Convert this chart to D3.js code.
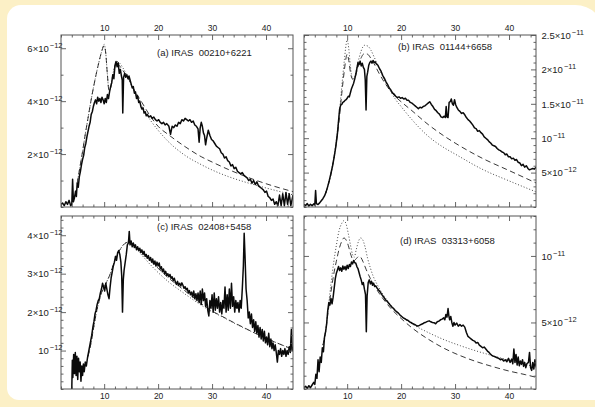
<!DOCTYPE html>
<html>
<head>
<meta charset="utf-8">
<script src="https://cdn.jsdelivr.net/npm/d3@7"></script>
<style>
  html, body { margin: 0; padding: 0; background: #fcf0c6; }
  svg { display: block; }
  text { font-family: "Liberation Sans", Arial, Helvetica, sans-serif; fill: #222; }
</style>
</head>
<body>
<svg id="chart" width="595" height="407"></svg>
<script>
// Wavelength axis (micron), shared by all four panels
const xDomain = [2, 45];
const xMajor = [10, 20, 30, 40];
const xMinor = [2, 4, 6, 8, 12, 14, 16, 18, 22, 24, 26, 28, 32, 34, 36, 38, 42, 44];

const titles = ["(a) IRAS  00210+6221", "(b) IRAS  01144+6658", "(c) IRAS  02408+5458", "(d) IRAS  03313+6058"];

// Flux axis ticks, values in units of 1e-12
const aYTicks = [2, 4, 6];
const aYCoef = ["2×10", "4×10", "6×10"];
const aYExp = ["−12", "−12", "−12"];
const bYTicks = [5, 10, 15, 20, 25];
const bYCoef = ["5×10", "10", "1.5×10", "2×10", "2.5×10"];
const bYExp = ["−12", "−11", "−11", "−11", "−11"];
const cYTicks = [1, 2, 3, 4];
const cYCoef = ["10", "2×10", "3×10", "4×10"];
const cYExp = ["−12", "−12", "−12", "−12"];
const dYTicks = [5, 10];
const dYCoef = ["5×10", "10"];
const dYExp = ["−12", "−11"];

// Observed spectra: [wavelength, flux (1e-12)]
const aObs = [[2.0,0.1],[2.3,0.15],[2.6,0.05],[2.9,0.2],[3.2,0.1],[3.5,0.25],[3.8,0.05],[4.0,0.1],[4.15,1.05],[4.3,0.2],[4.5,0.35],[4.7,0.6],[4.85,0.4],[5.0,0.9],[5.2,0.75],[5.4,1.15],[5.6,1.35],[5.8,1.6],[6.0,1.8],[6.2,1.95],[6.4,2.25],[6.6,2.4],[6.8,2.65],[7.0,2.85],[7.2,3.05],[7.4,3.2],[7.6,3.5],[7.8,3.6],[8.0,3.8],[8.2,3.95],[8.4,4.05],[8.6,3.9],[8.8,4.15],[9.0,4.0],[9.2,4.1],[9.4,3.95],[9.6,4.15],[9.8,4.05],[10.0,3.9],[10.2,4.1],[10.4,3.95],[10.6,4.25],[10.8,4.1],[11.0,4.35],[11.2,4.55],[11.4,4.7],[11.6,5.0],[11.8,4.85],[12.0,5.35],[12.2,5.5],[12.4,5.3],[12.6,5.45],[12.8,5.05],[13.0,5.2],[13.2,4.95],[13.35,4.8],[13.45,3.55],[13.6,4.9],[13.8,5.05],[14.0,4.9],[14.2,5.0],[14.4,4.85],[14.6,4.95],[14.8,4.8],[15.0,4.65],[15.2,4.5],[15.4,4.55],[15.6,4.3],[15.8,4.35],[16.0,4.1],[16.2,4.2],[16.4,3.95],[16.6,4.0],[16.8,3.8],[17.0,3.7],[17.2,3.75],[17.4,3.55],[17.6,3.6],[17.8,3.45],[18.0,3.5],[18.3,3.4],[18.6,3.45],[18.9,3.35],[19.2,3.4],[19.5,3.3],[19.8,3.25],[20.1,3.3],[20.4,3.2],[20.7,3.15],[21.0,3.2],[21.3,3.1],[21.6,3.15],[22.0,3.05],[22.3,2.75],[22.6,3.05],[22.9,3.0],[23.2,3.1],[23.5,3.05],[23.8,3.2],[24.1,3.15],[24.4,3.3],[24.7,3.25],[25.0,3.35],[25.3,3.3],[25.6,3.25],[25.9,3.3],[26.2,3.2],[26.5,3.25],[26.8,3.1],[27.1,3.05],[27.4,2.95],[27.6,2.45],[27.8,3.0],[28.0,3.2],[28.2,3.05],[28.4,2.8],[28.6,2.7],[28.8,2.35],[29.0,2.6],[29.3,2.9],[29.6,2.7],[29.9,2.55],[30.2,2.5],[30.5,2.4],[30.8,2.3],[31.1,2.25],[31.4,2.2],[31.7,2.05],[32.0,2.0],[32.3,1.85],[32.6,1.9],[32.9,1.75],[33.2,1.7],[33.5,1.55],[33.8,1.6],[34.1,1.45],[34.4,1.5],[34.7,1.35],[35.0,1.3],[35.3,1.25],[35.6,1.3],[35.9,1.2],[36.2,1.15],[36.5,1.1],[36.8,1.0],[37.1,1.05],[37.4,0.9],[37.7,1.0],[38.0,0.85],[38.3,0.95],[38.6,0.8],[38.9,0.75],[39.2,0.7],[39.5,0.65],[39.8,0.55],[40.1,0.6],[40.4,0.4],[40.7,0.35],[41.0,0.25],[41.3,0.3],[41.6,0.1],[41.9,0.2],[42.2,0.05],[42.5,0.45],[42.8,0.05],[43.1,0.5],[43.4,0.05],[43.7,0.55],[44.0,0.1],[44.3,0.5],[44.6,0.05],[45.0,0.45]];

const bObs = [[2.0,0.4],[2.3,0.2],[2.6,0.5],[2.9,0.15],[3.2,0.4],[3.5,0.2],[3.8,0.45],[4.0,0.3],[4.15,2.4],[4.3,0.5],[4.6,0.35],[4.9,0.6],[5.2,0.9],[5.5,1.2],[5.8,1.6],[6.1,2.2],[6.4,3.0],[6.7,3.9],[7.0,4.9],[7.3,6.0],[7.6,7.3],[7.9,8.8],[8.2,10.7],[8.4,12.5],[8.6,14.2],[8.8,14.8],[9.0,14.9],[9.2,15.2],[9.4,15.3],[9.6,15.5],[9.8,15.6],[10.0,15.8],[10.2,16.1],[10.4,16.0],[10.6,16.6],[10.8,17.2],[11.0,17.6],[11.2,18.0],[11.4,18.6],[11.6,19.3],[11.8,20.1],[12.0,21.0],[12.2,20.7],[12.4,21.2],[12.6,20.5],[12.8,20.9],[13.0,20.3],[13.2,20.0],[13.35,18.5],[13.5,14.1],[13.65,19.0],[13.8,19.6],[14.0,20.6],[14.2,21.0],[14.4,21.2],[14.6,20.9],[14.8,21.3],[15.0,21.0],[15.2,21.1],[15.4,20.8],[15.7,20.6],[16.0,20.1],[16.3,19.7],[16.6,19.1],[16.9,18.7],[17.2,18.2],[17.5,17.8],[17.8,17.3],[18.1,17.0],[18.4,16.6],[18.7,16.4],[19.0,16.1],[19.3,15.9],[19.6,16.0],[19.9,15.8],[20.2,15.9],[20.5,15.7],[20.8,15.8],[21.1,15.5],[21.4,15.5],[21.7,15.2],[22.0,15.1],[22.3,14.9],[22.6,14.7],[22.9,14.5],[23.2,14.3],[23.5,14.5],[23.8,14.4],[24.1,14.6],[24.4,14.7],[24.7,14.9],[25.0,15.1],[25.3,15.3],[25.6,14.9],[25.9,14.6],[26.2,14.2],[26.5,14.0],[26.8,13.7],[27.1,13.5],[27.4,13.1],[27.7,13.0],[28.0,13.2],[28.2,13.0],[28.35,14.6],[28.5,13.1],[28.7,13.0],[28.9,15.2],[29.1,15.3],[29.3,15.7],[29.5,15.0],[29.7,14.8],[29.9,15.6],[30.1,14.9],[30.3,14.5],[30.6,14.1],[30.9,13.9],[31.2,13.6],[31.5,13.7],[31.8,13.4],[32.1,13.0],[32.4,12.7],[32.7,12.5],[33.0,12.2],[33.3,11.9],[33.6,11.5],[33.9,11.4],[34.2,11.0],[34.5,11.1],[34.8,10.8],[35.1,10.6],[35.4,10.2],[35.7,10.0],[36.0,9.8],[36.3,9.5],[36.6,9.3],[36.9,9.0],[37.2,8.9],[37.5,8.8],[37.8,8.5],[38.1,8.3],[38.4,8.2],[38.7,8.0],[39.0,7.9],[39.3,7.6],[39.6,7.7],[39.9,7.3],[40.2,7.3],[40.5,7.0],[40.8,7.1],[41.1,6.8],[41.4,6.9],[41.7,6.5],[42.0,6.4],[42.3,6.0],[42.6,6.2],[42.9,5.8],[43.2,6.0],[43.5,5.6],[43.8,5.4],[44.1,5.5],[44.4,5.6],[44.7,5.5],[45.0,5.8]];

const cObs = [[4.0,0.0],[4.1,0.75],[4.2,0.3],[4.35,0.9],[4.5,0.4],[4.65,0.95],[4.8,0.35],[4.95,0.85],[5.1,0.25],[5.25,0.8],[5.4,0.45],[5.55,0.7],[5.7,0.2],[5.85,0.6],[6.0,0.35],[6.15,0.65],[6.3,0.45],[6.5,0.7],[6.7,0.6],[6.9,0.8],[7.1,0.95],[7.3,1.1],[7.5,1.25],[7.7,1.4],[7.9,1.6],[8.1,1.75],[8.3,1.95],[8.5,2.05],[8.7,2.2],[8.9,2.3],[9.1,2.35],[9.3,2.5],[9.5,2.6],[9.7,2.75],[9.9,2.65],[10.1,2.55],[10.3,2.75],[10.5,2.6],[10.7,2.45],[10.9,2.35],[11.1,2.65],[11.3,2.9],[11.5,3.05],[11.7,3.2],[11.9,3.3],[12.1,3.45],[12.3,3.35],[12.5,3.55],[12.7,3.6],[12.9,3.5],[13.1,3.3],[13.25,2.95],[13.4,2.0],[13.55,2.85],[13.7,3.1],[13.9,3.3],[14.1,3.5],[14.3,3.75],[14.5,3.8],[14.65,4.1],[14.8,3.75],[15.0,3.85],[15.2,3.7],[15.4,3.8],[15.6,3.68],[15.8,3.75],[16.0,3.62],[16.2,3.7],[16.4,3.6],[16.6,3.66],[16.8,3.55],[17.0,3.62],[17.2,3.5],[17.4,3.58],[17.6,3.45],[17.8,3.5],[18.0,3.4],[18.2,3.47],[18.4,3.35],[18.6,3.42],[18.8,3.3],[19.0,3.38],[19.2,3.25],[19.4,3.33],[19.6,3.2],[19.8,3.3],[20.0,3.2],[20.2,3.28],[20.4,3.12],[20.6,3.18],[20.8,3.05],[21.0,3.12],[21.2,3.0],[21.4,3.06],[21.6,2.95],[21.8,3.0],[22.0,2.92],[22.2,2.98],[22.4,2.88],[22.6,2.92],[22.8,2.82],[23.0,2.88],[23.2,2.78],[23.4,2.72],[23.6,2.8],[23.8,2.7],[24.0,2.75],[24.2,2.68],[24.4,2.76],[24.6,2.7],[24.8,2.62],[25.0,2.66],[25.2,2.58],[25.4,2.62],[25.6,2.5],[25.8,2.56],[26.0,2.45],[26.2,2.52],[26.4,2.4],[26.6,2.55],[26.8,2.35],[27.0,2.48],[27.2,2.3],[27.4,2.5],[27.6,2.25],[27.8,2.55],[28.0,2.2],[28.2,2.6],[28.4,2.3],[28.6,2.5],[28.8,2.15],[29.0,2.35],[29.2,2.05],[29.4,1.9],[29.6,2.3],[29.8,2.1],[30.0,2.45],[30.2,2.0],[30.4,2.5],[30.6,2.05],[30.8,2.35],[31.0,2.1],[31.2,2.4],[31.4,2.0],[31.6,2.25],[31.8,1.95],[32.0,2.3],[32.2,2.1],[32.4,2.65],[32.6,2.0],[32.8,2.45],[33.0,2.05],[33.2,2.6],[33.4,2.1],[33.6,2.75],[33.8,2.15],[34.0,2.4],[34.2,2.0],[34.4,2.3],[34.6,2.1],[34.8,2.25],[35.0,2.0],[35.2,2.3],[35.4,2.1],[35.6,2.6],[35.8,3.2],[35.95,4.05],[36.1,3.5],[36.3,2.6],[36.5,2.3],[36.7,1.85],[36.9,2.0],[37.1,1.7],[37.3,1.95],[37.5,1.6],[37.7,1.8],[37.9,1.5],[38.1,1.75],[38.3,1.45],[38.5,1.65],[38.7,1.35],[38.9,1.6],[39.1,1.3],[39.3,1.55],[39.5,1.25],[39.7,1.5],[39.9,1.2],[40.1,1.35],[40.3,1.15],[40.5,1.45],[40.7,1.1],[40.9,1.3],[41.1,1.05],[41.3,1.2],[41.5,1.0],[41.7,1.15],[41.9,0.95],[42.1,0.7],[42.3,1.0],[42.5,0.9],[42.7,1.05],[42.9,0.85],[43.1,1.0],[43.3,0.9],[43.5,1.05],[43.7,0.85],[43.9,1.0],[44.1,0.9],[44.3,1.1],[44.5,0.95],[44.7,1.55],[44.85,1.0],[45.0,1.1]];

const dObs = [[2.0,0.1],[2.3,0.2],[2.6,0.05],[2.9,0.25],[3.2,0.1],[3.5,0.3],[3.8,0.5],[4.0,0.35],[4.2,1.1],[4.4,0.8],[4.6,2.2],[4.8,1.3],[5.0,2.4],[5.2,2.0],[5.4,3.1],[5.6,2.8],[5.8,3.9],[6.0,4.3],[6.2,4.9],[6.4,5.9],[6.6,6.5],[6.8,6.3],[7.0,6.8],[7.2,6.4],[7.4,6.9],[7.6,7.6],[7.8,8.3],[8.0,8.7],[8.2,8.95],[8.4,9.2],[8.6,8.9],[8.8,9.1],[9.0,8.85],[9.2,9.25],[9.4,9.0],[9.6,9.2],[9.8,8.95],[10.0,9.3],[10.2,9.05],[10.4,9.35],[10.6,9.2],[10.8,9.55],[11.0,9.4],[11.2,9.65],[11.4,9.5],[11.6,9.45],[11.8,9.2],[12.0,9.05],[12.2,8.75],[12.4,8.45],[12.6,8.2],[12.8,7.85],[13.0,8.0],[13.2,7.5],[13.4,7.1],[13.55,4.3],[13.7,7.0],[13.9,8.0],[14.1,8.2],[14.3,7.9],[14.5,8.1],[14.7,7.8],[14.9,7.95],[15.1,7.7],[15.3,7.75],[15.6,7.55],[15.9,7.4],[16.2,7.25],[16.5,7.05],[16.8,6.9],[17.1,6.7],[17.4,6.6],[17.7,6.45],[18.0,6.3],[18.3,6.15],[18.6,6.05],[18.9,5.9],[19.2,5.8],[19.5,5.7],[19.8,5.55],[20.1,5.45],[20.4,5.35],[20.7,5.28],[21.0,5.2],[21.3,5.15],[21.6,5.05],[21.9,4.98],[22.2,4.9],[22.5,4.85],[22.8,4.78],[23.1,4.72],[23.4,4.78],[23.7,4.85],[24.0,4.9],[24.3,4.98],[24.6,5.02],[24.9,5.08],[25.2,5.12],[25.5,5.05],[25.8,5.0],[26.1,4.98],[26.4,4.9],[26.7,5.05],[27.0,5.1],[27.3,5.2],[27.6,5.25],[27.9,5.35],[28.1,5.2],[28.3,5.6],[28.5,5.4],[28.7,6.05],[28.85,5.5],[29.0,5.2],[29.2,5.45],[29.4,5.0],[29.6,4.72],[29.8,5.0],[30.0,4.8],[30.3,4.95],[30.6,4.72],[30.9,4.85],[31.2,4.72],[31.5,4.8],[31.8,4.65],[32.1,4.25],[32.4,3.95],[32.7,3.85],[33.0,3.75],[33.3,3.65],[33.6,3.6],[33.9,3.45],[34.2,3.5],[34.5,3.3],[34.8,3.2],[35.1,3.1],[35.4,3.15],[35.7,3.0],[36.0,2.85],[36.3,2.75],[36.6,2.6],[36.9,2.5],[37.2,2.45],[37.5,2.4],[37.8,2.35],[38.1,2.3],[38.4,2.2],[38.7,2.25],[39.0,2.1],[39.3,2.2],[39.6,2.05],[39.9,2.3],[40.2,2.0],[40.5,2.25],[40.7,1.9],[40.9,3.0],[41.1,2.0],[41.3,2.6],[41.5,1.8],[41.7,2.4],[41.9,1.75],[42.1,2.1],[42.3,1.85],[42.5,2.2],[42.7,1.7],[42.9,2.0],[43.1,1.6],[43.3,1.9],[43.6,2.0],[43.8,2.75],[44.0,1.6],[44.2,1.4],[44.4,2.0],[44.6,1.5],[44.8,2.2],[45.0,1.7]];

// Model spectra (dashed and dotted)
const aDash = [[5.0,0.9],[5.5,1.5],[6.0,2.1],[6.5,2.75],[7.0,3.35],[7.5,3.95],[8.0,4.5],[8.5,5.0],[9.0,5.45],[9.5,5.85],[10.0,6.1],[10.3,5.8],[10.6,5.0],[10.9,4.4],[11.2,4.5],[11.6,4.9],[12.0,5.3],[12.4,5.45],[12.8,5.35],[13.5,5.15],[14.5,4.85],[15.5,4.45],[17.0,3.95],[18.5,3.45],[20.0,3.05],[22.0,2.72],[25.0,2.28],[28.0,1.9],[30.0,1.7],[33.0,1.42],[36.0,1.17],[40.0,0.88],[45.0,0.58]];
const aDot = [[5.0,0.9],[5.5,1.5],[6.0,2.1],[6.5,2.75],[7.0,3.35],[7.5,3.95],[8.0,4.5],[8.5,5.0],[9.0,5.45],[9.5,5.85],[10.0,6.15],[10.3,5.8],[10.6,5.0],[10.9,4.4],[11.2,4.55],[11.6,5.0],[12.0,5.35],[12.4,5.5],[12.8,5.45],[13.5,5.25],[14.5,4.85],[15.5,4.4],[17.0,3.8],[18.5,3.3],[20.0,2.9],[22.0,2.45],[25.0,1.95],[28.0,1.6],[30.0,1.4],[33.0,1.15],[36.0,0.95],[40.0,0.72],[45.0,0.46]];
const bDash = [[6.0,2.0],[6.5,3.2],[7.0,4.8],[7.5,6.9],[8.0,9.4],[8.5,12.5],[9.0,16.5],[9.5,20.0],[9.8,21.7],[10.0,22.2],[10.3,21.3],[10.6,19.6],[11.0,18.6],[11.4,18.8],[12.0,20.3],[12.6,21.7],[13.2,22.3],[13.8,22.2],[14.4,21.6],[15.0,20.8],[16.0,19.3],[17.0,18.0],[18.0,16.9],[19.0,16.0],[20.0,15.3],[22.0,14.0],[25.0,12.0],[28.0,10.3],[30.0,9.3],[35.0,7.1],[40.0,5.3],[45.0,3.5]];
const bDot = [[6.0,2.0],[6.5,3.2],[7.0,4.8],[7.5,7.0],[8.0,9.8],[8.5,13.2],[9.0,17.5],[9.5,21.5],[9.8,23.6],[10.0,24.3],[10.3,23.0],[10.6,20.5],[11.0,18.6],[11.4,18.9],[12.0,21.0],[12.6,22.7],[13.2,23.5],[13.8,23.4],[14.4,22.8],[15.0,21.8],[16.0,20.0],[17.0,18.3],[18.0,16.9],[19.0,15.6],[20.0,14.6],[22.0,12.7],[25.0,10.3],[28.0,8.6],[30.0,7.7],[35.0,5.5],[40.0,3.8],[45.0,2.2]];
const cDash = [[7.0,0.85],[7.5,1.15],[8.0,1.55],[8.5,1.95],[9.0,2.25],[9.5,2.5],[10.0,2.65],[10.5,2.8],[11.0,2.95],[11.5,3.15],[12.0,3.35],[12.5,3.52],[13.0,3.64],[13.5,3.74],[14.0,3.8],[14.5,3.82],[15.0,3.8],[16.0,3.7],[17.0,3.57],[18.0,3.42],[19.0,3.28],[20.0,3.14],[22.0,2.88],[24.0,2.66],[26.0,2.44],[28.0,2.22],[30.0,2.03],[32.0,1.88],[34.0,1.73],[36.0,1.59],[38.0,1.45],[40.0,1.32],[42.0,1.2],[45.0,1.03]];
const cDot = [[7.0,0.85],[7.5,1.15],[8.0,1.55],[8.5,1.95],[9.0,2.25],[9.5,2.5],[10.0,2.65],[10.5,2.8],[11.0,2.95],[11.5,3.15],[12.0,3.35],[12.5,3.52],[13.0,3.64],[13.5,3.74],[14.0,3.8],[14.5,3.82],[15.0,3.78],[16.0,3.64],[17.0,3.48],[18.0,3.32],[19.0,3.17],[20.0,3.03],[22.0,2.78],[24.0,2.57],[26.0,2.37],[28.0,2.18],[30.0,2.01],[32.0,1.87],[34.0,1.72],[36.0,1.58],[38.0,1.45],[40.0,1.32],[42.0,1.2],[45.0,1.03]];
const dDash = [[5.5,3.3],[6.0,4.3],[6.5,5.9],[7.0,7.3],[7.5,8.6],[8.0,9.6],[8.5,10.5],[9.0,11.1],[9.4,11.35],[9.8,11.2],[10.2,10.8],[10.6,10.2],[11.0,9.75],[11.3,9.65],[11.7,9.8],[12.1,9.95],[12.5,9.9],[12.9,9.6],[13.5,9.0],[14.3,8.3],[15.0,7.8],[16.0,7.15],[17.0,6.6],[18.0,6.1],[20.0,5.3],[22.0,4.6],[25.0,3.75],[28.0,3.05],[31.0,2.5],[34.0,2.05],[37.0,1.68],[40.0,1.35],[43.0,1.08],[45.0,0.88]];
const dDot = [[5.5,3.3],[6.0,4.4],[6.5,6.1],[7.0,7.9],[7.5,9.5],[8.0,10.8],[8.5,11.9],[9.0,12.45],[9.4,12.65],[9.8,12.4],[10.2,11.7],[10.6,10.85],[11.0,10.1],[11.3,9.9],[11.7,10.5],[12.1,11.1],[12.5,11.35],[12.9,11.2],[13.3,10.7],[13.8,9.8],[14.3,9.1],[14.8,8.5],[15.5,7.9],[16.5,7.2],[18.0,6.35],[20.0,5.5],[22.0,4.9],[25.0,4.25],[28.0,3.7],[31.0,3.25],[34.0,2.85],[37.0,2.5],[40.0,2.15],[43.0,1.85],[45.0,1.65]];

const svg = d3.select("#chart");

// white card with rounded corners on the tinted page
function cardPath(x, y, r, b, tl, tr, bl) {
  return `M${x + tl},${y} H${r - tr} A${tr},${tr} 0 0 1 ${r},${y + tr} V${b} H${x + bl} A${bl},${bl} 0 0 1 ${x},${b - bl} V${y + tl} A${tl},${tl} 0 0 1 ${x + tl},${y} Z`;
}
svg.append("path").attr("d", cardPath(7, 5, 605, 400, 14, 30, 12)).attr("fill", "#ffffff");

const panels = [
  { obs: aObs, dash: aDash, dot: aDot, title: titles[0], yMax: 6.5, yTicks: aYTicks, yMinorStep: 1, coef: aYCoef, exp: aYExp,
    box: [61, 35, 293, 207], ySide: "left", xSide: "top", tpos: [157, 56] },
  { obs: bObs, dash: bDash, dot: bDot, title: titles[1], yMax: 25, yTicks: bYTicks, yMinorStep: 1, coef: bYCoef, exp: bYExp,
    box: [304, 35, 536, 207], ySide: "right", xSide: "top", tpos: [398, 50] },
  { obs: cObs, dash: cDash, dot: cDot, title: titles[2], yMax: 4.5, yTicks: cYTicks, yMinorStep: 0.2, coef: cYCoef, exp: cYExp,
    box: [61, 216, 293, 389], ySide: "left", xSide: "bottom", tpos: [157, 229.5] },
  { obs: dObs, dash: dDash, dot: dDot, title: titles[3], yMax: 13, yTicks: dYTicks, yMinorStep: 1, coef: dYCoef, exp: dYExp,
    box: [304, 216, 536, 389], ySide: "right", xSide: "bottom", tpos: [400, 244] }
];

const frameColor = "#555";
const MAJ = 5, MIN = 2.5;

function styleAxis(sel) {
  sel.select(".domain").remove();
  sel.selectAll(".tick line").attr("stroke", frameColor).attr("stroke-width", 0.9);
}

panels.forEach((p, i) => {
  const [x0, y0, x1, y1] = p.box;
  const x = d3.scaleLinear().domain(xDomain).range([x0, x1]);
  const y = d3.scaleLinear().domain([0, p.yMax]).range([y1, y0]);
  const g = svg.append("g");

  const clipId = "clip" + i;
  g.append("clipPath").attr("id", clipId)
    .append("rect").attr("x", x0).attr("y", y0).attr("width", x1 - x0).attr("height", y1 - y0);
  const plot = g.append("g").attr("clip-path", `url(#${clipId})`);

  const raw = d3.line().x(d => x(d[0])).y(d => y(d[1]));
  const smooth = d3.line().curve(d3.curveMonotoneX).x(d => x(d[0])).y(d => y(d[1]));

  plot.append("path").datum(p.dot).attr("d", smooth)
    .attr("fill", "none").attr("stroke", "#333").attr("stroke-width", 0.9).attr("stroke-dasharray", "1,2");
  plot.append("path").datum(p.dash).attr("d", smooth)
    .attr("fill", "none").attr("stroke", "#222").attr("stroke-width", 0.9).attr("stroke-dasharray", "5.5,3.5");
  plot.append("path").datum(p.obs).attr("d", raw)
    .attr("fill", "none").attr("stroke", "#0a0a0a").attr("stroke-width", 1.5).attr("stroke-linejoin", "round");

  // frame
  g.append("rect").attr("x", x0).attr("y", y0).attr("width", x1 - x0).attr("height", y1 - y0)
    .attr("fill", "none").attr("stroke", frameColor).attr("stroke-width", 1);

  // x ticks on top and bottom edges, pointing inward
  const yMinor = d3.range(0, p.yMax + 1e-9, p.yMinorStep).map(v => +v.toFixed(3))
    .filter(v => !p.yTicks.some(t => Math.abs(t - v) < 1e-6));

  const top = g.append("g").attr("transform", `translate(0,${y0})`)
    .call(d3.axisTop(x).tickValues(xMajor).tickSize(-MAJ).tickPadding(4.3)
      .tickFormat(p.xSide === "top" ? d3.format("d") : () => ""));
  styleAxis(top);
  const topMin = g.append("g").attr("transform", `translate(0,${y0})`)
    .call(d3.axisTop(x).tickValues(xMinor).tickSize(-MIN).tickFormat(() => ""));
  styleAxis(topMin);

  const bot = g.append("g").attr("transform", `translate(0,${y1})`)
    .call(d3.axisBottom(x).tickValues(xMajor).tickSize(-MAJ).tickPadding(4)
      .tickFormat(p.xSide === "bottom" ? d3.format("d") : () => ""));
  styleAxis(bot);
  const botMin = g.append("g").attr("transform", `translate(0,${y1})`)
    .call(d3.axisBottom(x).tickValues(xMinor).tickSize(-MIN).tickFormat(() => ""));
  styleAxis(botMin);

  [top, bot].forEach(a => a.selectAll("text")
    .attr("font-size", 8.5).attr("fill", "#222").attr("font-family", null));

  // y ticks on both sides
  const left = g.append("g").attr("transform", `translate(${x0},0)`)
    .call(d3.axisLeft(y).tickValues(p.yTicks).tickSize(-MAJ).tickPadding(-1.5));
  const leftMin = g.append("g").attr("transform", `translate(${x0},0)`)
    .call(d3.axisLeft(y).tickValues(yMinor).tickSize(-MIN).tickFormat(() => ""));
  const right = g.append("g").attr("transform", `translate(${x1},0)`)
    .call(d3.axisRight(y).tickValues(p.yTicks).tickSize(-MAJ).tickPadding(5.5));
  const rightMin = g.append("g").attr("transform", `translate(${x1},0)`)
    .call(d3.axisRight(y).tickValues(yMinor).tickSize(-MIN).tickFormat(() => ""));
  [left, leftMin, right, rightMin].forEach(styleAxis);

  const labelled = p.ySide === "left" ? left : right;
  const blank = p.ySide === "left" ? right : left;
  blank.selectAll("text").remove();

  // tick labels written as coefficient x 10 with a raised exponent
  labelled.selectAll("text").each(function(d) {
    const k = p.yTicks.indexOf(d);
    const t = d3.select(this).text(null).attr("font-family", null).attr("fill", "#222");
    t.append("tspan").attr("font-size", 9.5).text(p.coef[k]);
    t.append("tspan").attr("font-size", 7.5).attr("dx", 1).attr("dy", -4).text(p.exp[k]);
  });

  g.append("text").attr("x", p.tpos[0]).attr("y", p.tpos[1])
    .attr("font-size", 9.5).style("white-space", "pre").text(p.title);
});
</script>
</body>
</html>
